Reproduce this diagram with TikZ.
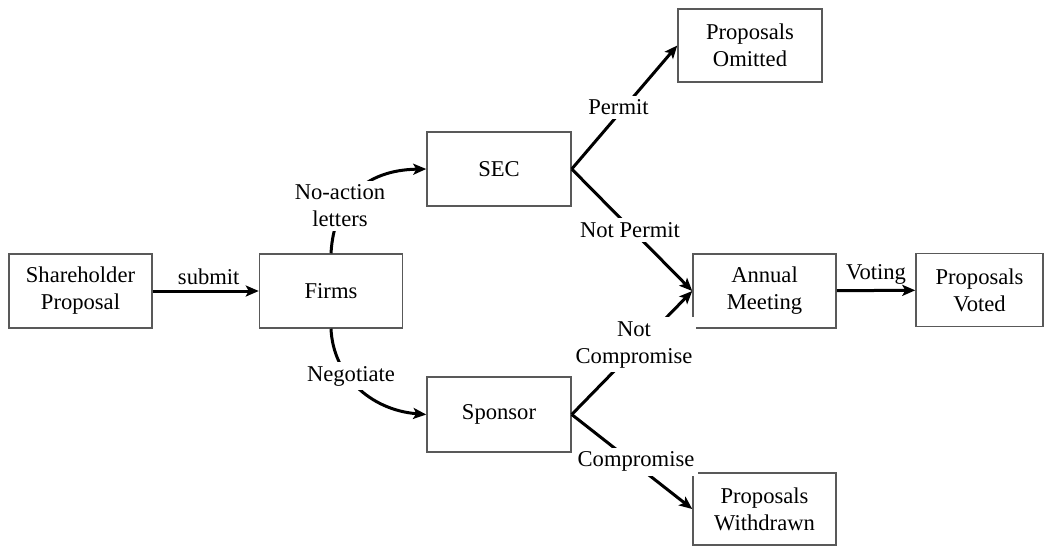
\documentclass[tikz,border=0pt]{standalone}
\usepackage{fontspec}
\setmainfont{Liberation Serif}
\usetikzlibrary{arrows.meta}
\begin{document}
\begin{tikzpicture}[x=0.5pt,y=-0.5pt,
  every node/.style={font=\fontsize{11.3}{13.5}\selectfont},
  box/.style={draw=black!65, line width=0.75pt, minimum width=71.5pt, minimum height=37pt, inner sep=0pt, align=center},
  arr/.style={line width=1.5pt, -{Stealth[length=6.5pt,width=5.5pt,inset=1.5pt]}},
  lbl/.style={fill=white, inner sep=2pt, align=center},
  toplbl/.style={above, inner sep=2.2pt}]
\useasboundingbox (0,0) rectangle (1052,547);
% boxes
\node[box] (share) at (80.5,291) {Shareholder\\Proposal};
\node[box] (firms) at (331,291) {Firms};
\node[box, minimum width=72pt] (sec) at (499,169) {SEC};
\node[box, minimum width=72pt, minimum height=37.5pt] (sponsor) at (499,414.5) {Sponsor};
\node[box, minimum width=72pt, minimum height=36.5pt] (omitted) at (750,45.5) {Proposals\\Omitted};
\node[box] (meeting) at (764.5,291) {Annual\\Meeting};
\node[box, minimum width=63.5pt, minimum height=36.5pt] (voted) at (979.5,290) {Proposals\\Voted};
\node[box, minimum height=36pt] (withdrawn) at (764.5,509) {Proposals\\Withdrawn};
% connectors
\draw[arr] (share) -- node[toplbl, xshift=1.5pt] (submit) {submit} (firms);
\draw[arr] (firms.north) .. controls (334,200) and (365,170) .. (sec.west);
\node[lbl] (noaction) at (340,206) {No-action\\letters};
\draw[arr] (firms.south) .. controls (333,375) and (370,410) .. (sponsor.west);
\node[lbl] (negotiate) at (351,376) {Negotiate};
\draw[arr] (sec.east) -- node[lbl, pos=0.5, xshift=-3pt] (permit) {Permit} (omitted.west);
\draw[arr] (sec.east) -- node[lbl, pos=0.5, xshift=-1pt] (notpermit) {Not Permit} (meeting.west);
\draw[arr] (sponsor.east) -- node[lbl, pos=0.5, yshift=4pt, xshift=1pt] (notcomp) {Not\\Compromise} (meeting.west);
\draw[arr] (sponsor.east) -- node[lbl, pos=0.5, xshift=2pt] (comp) {Compromise} (withdrawn.west);
\draw[arr] (meeting) -- node[toplbl] (voting) {Voting} (voted);
\end{tikzpicture}
\end{document}
